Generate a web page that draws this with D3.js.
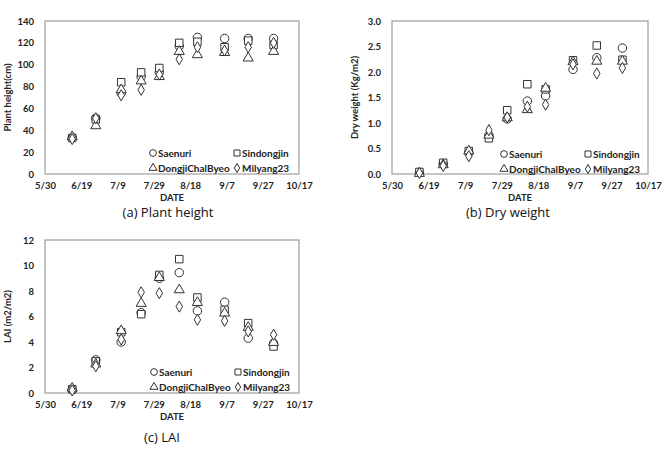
<!DOCTYPE html>
<html><head><meta charset="utf-8">
<script src="https://cdn.jsdelivr.net/npm/d3@7/dist/d3.min.js"></script>
<style>
body{margin:0;background:#fff;}
svg{display:block;}
.tick text{font-family:Lato,"Open Sans",sans-serif;font-weight:bold;font-size:9.5px;fill:#222;}
</style></head>
<body>
<svg id="chart" width="667" height="452"></svg>
<script>
// ---- data ----
const seriesNames = ["Saenuri", "Sindongjin", "DongjiChalByeo", "Milyang23"];
const symbols = ["circle", "square", "triangle", "diamond"];
const dates = ["6/14","6/27","7/11","7/22","8/1","8/12","8/22","9/6","9/19","10/3"];
const xTickLabels = ["5/30","6/19","7/9","7/29","8/18","9/7","9/27","10/17"];

const heightSaenuri    = [33, 51, 74, 89, 93, 117, 125, 124, 124, 124];
const heightSindongjin = [33, 50, 84, 93, 97, 120, 121, 116, 122, 118];
const heightDongji     = [35, 45, 78, 86, 90, 113, 110, 112, 107, 113];
const heightMilyang    = [32, 51, 72, 77, 91, 105, 116, 113, 116, 120];
const heightTicks = [0,20,40,60,80,100,120,140];

const dryweightSaenuri    = [0.03, 0.20, 0.42, 0.76, 1.08, 1.43, 1.53, 2.05, 2.28, 2.47];
const dryweightSindongjin = [0.04, 0.22, 0.45, 0.70, 1.25, 1.76, 1.66, 2.23, 2.52, 2.24];
const dryweightDongji     = [0.03, 0.20, 0.47, 0.78, 1.12, 1.28, 1.70, 2.22, 2.23, 2.23];
const dryweightMilyang    = [0.02, 0.16, 0.35, 0.86, 1.11, 1.32, 1.36, 2.15, 1.97, 2.08];
const dryweightTicks = [0,0.5,1.0,1.5,2.0,2.5,3.0];

const laiSaenuri    = [0.25, 2.6, 4.0, 6.3, 9.0, 9.44, 6.44, 7.12, 4.3, 3.9];
const laiSindongjin = [0.3, 2.48, 4.77, 6.18, 9.26, 10.5, 7.49, 6.52, 5.48, 3.65];
const laiDongji     = [0.45, 2.35, 4.96, 7.1, 9.13, 8.17, 7.17, 6.34, 5.22, 4.04];
const laiMilyang    = [0.2, 2.1, 4.2, 7.9, 7.83, 6.78, 5.74, 5.66, 4.83, 4.57];
const laiTicks = [0,2,4,6,8,10,12];

// ---- drawing ----
const parse = d3.timeParse("%m/%d");
const svg = d3.select("#chart");
const symbolTypes = {circle:d3.symbolCircle, square:d3.symbolSquare, triangle:d3.symbolTriangle, diamond:d3.symbolDiamond};
const symbolSizes = {circle:56, square:56, triangle:44, diamond:36};
const legendSizes = {circle:36, square:36, triangle:28, diamond:24};

function drawPanel(p){
  const g = svg.append("g");
  const x = d3.scaleTime().domain([parse(xTickLabels[0]), parse(xTickLabels[xTickLabels.length-1])]).range([p.left, p.right]);
  const y = d3.scaleLinear().domain([p.yTicks[0], p.yTicks[p.yTicks.length-1]]).range([p.bottom, p.top]);

  const xAxis = g.append("g").attr("transform",`translate(0,${p.bottom})`)
    .call(d3.axisBottom(x).tickValues(xTickLabels.map(parse)).tickFormat(d3.timeFormat("%-m/%-d")).tickSize(0).tickPadding(8));
  xAxis.select(".domain").remove();
  const yAxis = g.append("g").attr("transform",`translate(${p.left},0)`)
    .call(d3.axisLeft(y).tickValues(p.yTicks).tickFormat(p.fmt).tickSize(0).tickPadding(11));
  yAxis.select(".domain").remove();

  g.append("rect").attr("x",p.left).attr("y",p.top).attr("width",p.right-p.left).attr("height",p.bottom-p.top)
    .attr("fill","none").attr("stroke","#8a8a8a").attr("stroke-width",1);

  p.series.forEach((vals,i)=>{
    const sym = symbols[i];
    const path = d3.symbol().type(symbolTypes[sym]).size(symbolSizes[sym])();
    g.append("g").selectAll("path").data(vals).join("path")
      .attr("d",path)
      .attr("transform",(d,j)=>`translate(${x(parse(dates[j]))},${y(d) + (sym==="triangle"?1:0)})`)
      .attr("fill","#fff").attr("stroke","#333").attr("stroke-width",1);
  });

  // legend
  const lg = g.append("g");
  seriesNames.forEach((name,i)=>{
    const col = i%2, row = Math.floor(i/2);
    const sx = p.legX + col*84, sy = p.legY + row*15;
    const sym = symbols[i];
    lg.append("path").attr("d",d3.symbol().type(symbolTypes[sym]).size(legendSizes[sym])())
      .attr("transform",`translate(${sx},${sy})`).attr("fill","#fff").attr("stroke","#333").attr("stroke-width",1);
    lg.append("text").attr("x",sx+5).attr("y",sy).attr("dy","0.35em")
      .style("font-family","Lato, sans-serif").style("font-weight","bold").style("font-size","10px").attr("fill","#222")
      .text(name);
  });

  g.append("text").attr("x",(p.left+p.right)/2).attr("y",p.bottom+24).attr("dy","0.35em").attr("text-anchor","middle")
    .style("font-family","Lato, sans-serif").style("font-weight","bold").style("font-size","9.5px").attr("fill","#222").text("DATE");
  g.append("text").attr("transform",`translate(${p.ylabX},${(p.top+p.bottom)/2}) rotate(-90)`).attr("dy","0.35em").attr("text-anchor","middle")
    .style("font-family","Lato, sans-serif").style("font-weight","bold").style("font-size","9.5px").attr("fill","#222").text(p.ylabel);
  g.append("text").attr("x",p.capX).attr("y",p.capY).attr("dy","0.35em").attr("text-anchor","middle")
    .style("font-family","'Open Sans', sans-serif").style("font-size","13px").attr("fill","#111").text(p.caption);
}

drawPanel({left:45,right:299,top:21,bottom:174,yTicks:heightTicks,fmt:d3.format("d"),
  series:[heightSaenuri,heightSindongjin,heightDongji,heightMilyang],
  legX:153,legY:153,ylabX:8,ylabel:"Plant height(cm)",caption:"(a) Plant height",capX:168,capY:212});
drawPanel({left:392,right:648,top:21,bottom:174,yTicks:dryweightTicks,fmt:d3.format(".1f"),
  series:[dryweightSaenuri,dryweightSindongjin,dryweightDongji,dryweightMilyang],
  legX:504,legY:154,ylabX:355,ylabel:"Dry weight (Kg/m2)",caption:"(b) Dry weight",capX:508,capY:212});
drawPanel({left:45,right:299,top:240,bottom:393,yTicks:laiTicks,fmt:d3.format("d"),
  series:[laiSaenuri,laiSindongjin,laiDongji,laiMilyang],
  legX:154,legY:372,ylabX:8,ylabel:"LAI (m2/m2)",caption:"(c) LAI",capX:162,capY:437});
</script>
</body></html>
